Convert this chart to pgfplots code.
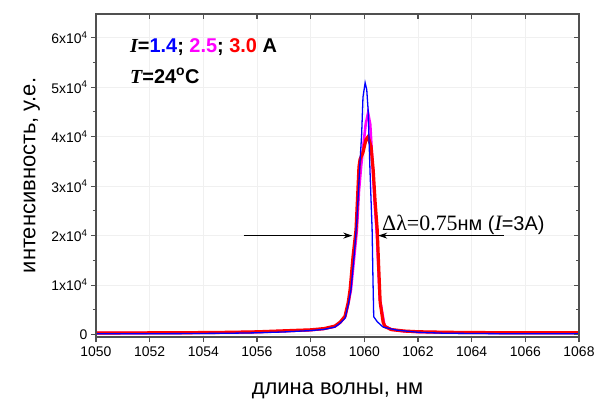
\documentclass[border=0pt]{standalone}
\usepackage{fontspec}
\setmainfont{Liberation Sans}
\newfontfamily\serif{Liberation Serif}
\usepackage{pgfplots}
\pgfplotsset{compat=1.18}
\usetikzlibrary{arrows.meta}
\definecolor{frame}{RGB}{80,80,80}
\definecolor{mag}{RGB}{255,0,255}
\begin{document}
\begin{tikzpicture}
\pgfplotsset{
  common/.style={
    scale only axis, width=483bp, height=323bp,
    xmin=1050, xmax=1068, ymin=-500, ymax=64800,
    scaled ticks=false,
    xtick={1050,1052,...,1068}, minor x tick num=1,
    ytick={0,10000,...,60000}, minor y tick num=1,
    axis line style={frame, line width=1.4bp},
    major tick length=5bp, minor tick length=3bp,
    every tick/.style={frame, line width=1.1bp},
  }
}
\begin{axis}[common,
  tick pos=left, tick align=outside,
  xmajorgrids, ymajorgrids,
  grid style={gray!12, line width=0.6bp},
  /pgf/number format/assume math mode=true,
  /pgf/number format/set thousands separator={},
  xticklabel style={font=\fontsize{14}{15}\selectfont, yshift=-1bp},
  yticklabels={0,{1x10\textsuperscript{4}},{2x10\textsuperscript{4}},{3x10\textsuperscript{4}},{4x10\textsuperscript{4}},{5x10\textsuperscript{4}},{6x10\textsuperscript{4}}},
  yticklabel style={font=\fontsize{14}{15}\selectfont},
  xlabel={длина волны, нм},
  ylabel={интенсивность, у.е.},
  x label style={at={(axis description cs:0.5,-0.165)}, anchor=center, font=\fontsize{22}{24}\selectfont},
  y label style={at={(axis description cs:-0.133,0.5)}, anchor=center, font=\fontsize{22}{24}\selectfont},
]
% magenta I=2.5 A
\addplot[mag, line width=2.6bp] coordinates {
(1050,300) (1053,330) (1055,420) (1056,520) (1057,700) (1058,900) (1058.5,1150)
(1058.9,1600) (1059.1,2400) (1059.28,3500) (1059.4,6200) (1059.5,9000) (1059.62,15500)
(1059.72,21000) (1059.8,29000) (1059.88,34000) (1059.97,38500) (1060.05,42500) (1060.14,44800)
(1060.22,42500) (1060.3,35000) (1060.38,27000) (1060.47,20000) (1060.57,7500)
(1060.75,1800) (1061,1000) (1061.5,650) (1062,520) (1063,430) (1064,380) (1066,340) (1068,330)
};
% red I=3.0 A
\addplot[red, line width=3.2bp] coordinates {
(1050,320) (1053,350) (1055,450) (1056,550) (1057,750) (1058,950) (1058.5,1200)
(1058.9,1700) (1059.1,2500) (1059.28,3700) (1059.4,6500) (1059.47,9100) (1059.58,15800)
(1059.69,21200) (1059.75,28000) (1059.8,33900) (1059.84,35400) (1059.95,36800)
(1060.06,39400) (1060.14,40000) (1060.25,38000) (1060.33,33300) (1060.4,27000)
(1060.48,21200) (1060.54,13000) (1060.59,6500) (1060.7,2500) (1060.77,1600)
(1061,1000) (1061.5,700) (1062,560) (1063,460) (1064,400) (1066,360) (1068,350)
};
% blue I=1.4 A
\addplot[blue, line width=1.3bp] coordinates {
(1050,150) (1053,180) (1055,260) (1056,350) (1057,520) (1058,800) (1058.5,1050)
(1058.9,1500) (1059.1,2300) (1059.28,3300) (1059.4,6000) (1059.5,9000) (1059.62,16000)
(1059.72,23000) (1059.84,35000) (1059.9,40500) (1059.95,48000) (1060.03,50900)
(1060.09,49500) (1060.14,45500) (1060.21,33300) (1060.29,21200) (1060.32,11700)
(1060.35,3600) (1060.48,2600) (1060.7,1500) (1061.2,900) (1062,450) (1063,260)
(1065,170) (1068,150)
};
\draw[black, line width=1.1bp, -{Stealth[length=9bp,width=6bp]}] (axis cs:1055.5,20000) -- (axis cs:1059.55,20000);
\draw[black, line width=1.1bp, -{Stealth[length=9bp,width=6bp]}] (axis cs:1065.2,20000) -- (axis cs:1060.52,20000);
\node[anchor=base west, inner sep=0pt, font=\fontsize{20}{22}\selectfont] at (axis cs:1060.66,21100)
  {{\serif\fontsize{22}{24}\selectfont Δλ=0.75}нм ({\serif\itshape\fontsize{22}{24}\selectfont I}=3A)};
\end{axis}
\begin{axis}[common,
  tick pos=right, tick align=inside,
  xticklabels={}, yticklabels={},
]
\end{axis}
\node[anchor=west, inner sep=0pt, font=\fontsize{20}{22}\bfseries] at (34bp,290bp)
  {{\serif\itshape I}=\textcolor{blue}{1.4}; \textcolor{mag}{2.5}; \textcolor{red}{3.0} A};
\node[anchor=west, inner sep=0pt, font=\fontsize{20}{22}\bfseries] at (34bp,261bp)
  {{\serif\itshape T}=24\textsuperscript{o}C};
\pgfresetboundingbox
\path (-96bp,-69bp) rectangle (512bp,337bp);
\end{tikzpicture}
\end{document}
